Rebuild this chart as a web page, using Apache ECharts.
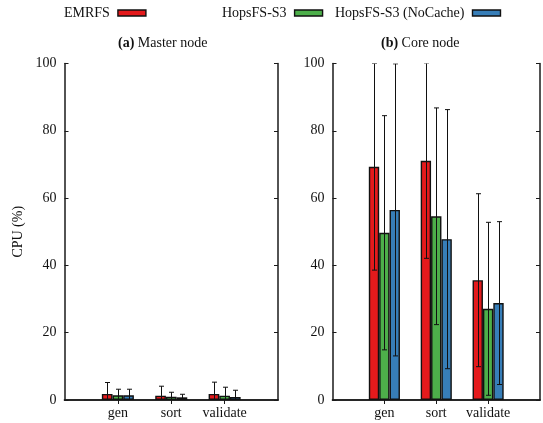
<!DOCTYPE html>
<html>
<head>
<meta charset="utf-8">
<script src="https://cdn.jsdelivr.net/npm/echarts@6/dist/echarts.min.js"></script>
<style>html,body{margin:0;padding:0;background:#fff;}#c{width:543px;height:423px;}</style>
</head>
<body>
<div id="c"></div>
<script>
const categories = ['gen', 'sort', 'validate'];
const seriesNames = ['EMRFS', 'HopsFS-S3', 'HopsFS-S3 (NoCache)'];
const colors = ['#e41a1c', '#4daf4a', '#377eb8'];
const yTicks = [0, 20, 40, 60, 80, 100];

// Master node (mean, std)
const masterEMRFS = [1.8, 1.3, 1.8];
const masterEMRFSErr = [3.4, 2.8, 3.5];
const masterHops = [1.4, 1.0, 1.3];
const masterHopsErr = [1.8, 1.3, 2.5];
const masterNoCache = [1.4, 0.8, 0.9];
const masterNoCacheErr = [1.8, 0.9, 2.0];

// Core node (mean, std)
const coreEMRFS = [69.3, 71.1, 35.6];
const coreEMRFSErr = [30.7, 29.0, 25.7];
const coreHops = [49.7, 54.6, 27.1];
const coreHopsErr = [34.8, 32.2, 25.7];
const coreNoCache = [56.5, 47.8, 28.8];
const coreNoCacheErr = [43.4, 38.5, 24.2];

const panels = [
  { means: [masterEMRFS, masterHops, masterNoCache], errs: [masterEMRFSErr, masterHopsErr, masterNoCacheErr] },
  { means: [coreEMRFS, coreHops, coreNoCache], errs: [coreEMRFSErr, coreHopsErr, coreNoCacheErr] }
];

const FONT = 'Liberation Serif';
const axisCats = [''].concat(categories).concat(['']);
const BAR_FRAC = 0.2;

const grids = [
  { left: 64.5, top: 63.5, width: 213.5, height: 336.5 },
  { left: 332.5, top: 63.5, width: 209.5, height: 336.5 }
];

const xAxes = [], yAxes = [], series = [];
const lineStyle = { color: '#1a1a1a', width: 1.5 };
const tickInterval = (i) => i >= 1 && i <= 3;

grids.forEach((g, gi) => {
  xAxes.push({
    type: 'category', gridIndex: gi, data: axisCats, boundaryGap: false, position: 'bottom',
    axisLine: { lineStyle: lineStyle },
    axisTick: { show: true, inside: true, length: 4, interval: (i) => tickInterval(i), lineStyle: { color: '#1a1a1a', width: 1 } },
    axisLabel: { fontFamily: FONT, fontSize: 14, color: '#111', margin: 6, interval: 0 }
  });
  xAxes.push({
    type: 'category', gridIndex: gi, data: axisCats, boundaryGap: false, position: 'top',
    axisLine: { lineStyle: lineStyle },
    axisTick: { show: true, inside: true, length: 4, interval: (i) => tickInterval(i), lineStyle: { color: '#1a1a1a', width: 1 } },
    axisLabel: { show: false }
  });
  yAxes.push({
    type: 'value', gridIndex: gi, min: 0, max: 100, interval: 20, position: 'left',
    name: gi === 0 ? 'CPU (%)' : '', nameLocation: 'middle', nameGap: 39, nameRotate: 90,
    nameTextStyle: { fontFamily: FONT, fontSize: 14, color: '#111' },
    axisLine: { show: true, lineStyle: lineStyle },
    axisTick: { show: true, inside: true, length: 4, lineStyle: { color: '#1a1a1a', width: 1 } },
    axisLabel: { fontFamily: FONT, fontSize: 14, color: '#111', margin: 8 },
    splitLine: { show: false }
  });
  yAxes.push({
    type: 'value', gridIndex: gi, min: 0, max: 100, interval: 20, position: 'right',
    axisLine: { show: true, lineStyle: lineStyle },
    axisTick: { show: true, inside: true, length: 4, lineStyle: { color: '#1a1a1a', width: 1 } },
    axisLabel: { show: false },
    splitLine: { show: false }
  });

  const p = panels[gi];
  for (let k = 0; k < 3; k++) {
    series.push({
      type: 'bar', name: seriesNames[k], xAxisIndex: gi * 2, yAxisIndex: gi * 2,
      barWidth: (BAR_FRAC * 100) + '%', barGap: '0%',
      itemStyle: { color: colors[k], borderColor: '#111', borderWidth: 1.4 },
      data: p.means[k].map((v, i) => [i + 1, v]),
      z: 2
    });
  }
  for (let k = 0; k < 3; k++) {
    series.push({
      type: 'custom', name: 'err' + gi + k, xAxisIndex: gi * 2, yAxisIndex: gi * 2,
      clip: true, z: 3,
      data: p.means[k].map((v, i) => [i + 1, v, p.errs[k][i], k]),
      renderItem: function (params, api) {
        const x = api.value(0), m = api.value(1), e = api.value(2), kk = api.value(3);
        const band = api.size([1, 0])[0];
        const off = (kk - 1) * band * BAR_FRAC;
        const t = api.coord([x, m + e]);
        const b = api.coord([x, m - e]);
        const cx = Math.round(t[0] + off) + 0.5;
        const cap = 2.5;
        const st = { stroke: '#111', lineWidth: 1, fill: null };
        return {
          type: 'group',
          children: [
            { type: 'line', shape: { x1: cx, y1: t[1], x2: cx, y2: b[1] }, style: st },
            { type: 'line', shape: { x1: cx - cap, y1: t[1], x2: cx + cap, y2: t[1] }, style: st },
            { type: 'line', shape: { x1: cx - cap, y1: b[1], x2: cx + cap, y2: b[1] }, style: st }
          ]
        };
      }
    });
  }
});

const legendLefts = [64, 222, 335];
const legends = seriesNames.map((n, i) => ({
  data: [n], left: legendLefts[i], top: 6, align: 'right', orient: 'horizontal', padding: 0,
  itemWidth: 28, itemHeight: 6, icon: 'rect', selectedMode: false,
  itemStyle: { color: colors[i], borderColor: '#111', borderWidth: 1.4 },
  textStyle: { fontFamily: FONT, fontSize: 14, color: '#111', padding: [0, 3, 0, 0] }
}));

const titleStyle = { fontFamily: FONT, fontSize: 14, fontWeight: 'normal', color: '#111', rich: { b: { fontFamily: FONT, fontSize: 14, fontWeight: 'bold', color: '#111' } } };
const option = {
  animation: false,
  backgroundColor: '#fff',
  title: [
    { text: '{b|(a)} Master node', left: 118, top: 36, padding: 0, textStyle: titleStyle },
    { text: '{b|(b)} Core node', left: 381, top: 36, padding: 0, textStyle: titleStyle }
  ],
  legend: legends,
  grid: grids,
  xAxis: xAxes,
  yAxis: yAxes,
  series: series
};

const chart = echarts.init(document.getElementById('c'), null, { renderer: 'canvas' });
chart.setOption(option);
</script>
</body>
</html>
